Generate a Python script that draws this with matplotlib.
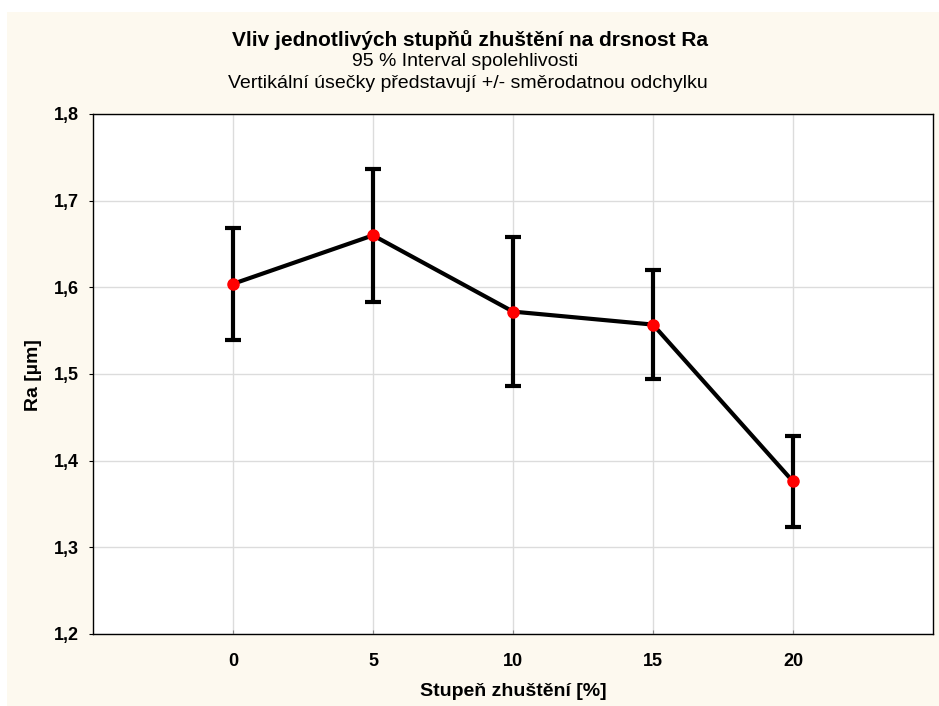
import numpy as np
import matplotlib.pyplot as plt
from matplotlib.patches import Rectangle

plt.rcParams['font.family'] = ['Liberation Sans', 'DejaVu Sans']

# stupen zhusteni a namerene drsnosti
stupne = ['0', '5', '10', '15', '20']
prumery = [1.604, 1.660, 1.572, 1.557, 1.376]
odchylky = [0.065, 0.077, 0.0855, 0.063, 0.052]
y_ticky = [1.2, 1.3, 1.4, 1.5, 1.6, 1.7, 1.8]

fig = plt.figure(figsize=(9.39, 7.06), dpi=100)
fig.patch.set_facecolor('white')
# podkladovy ramecek grafu
fig.patches.append(Rectangle((7/939, 0), 1, 1 - 12/706, transform=fig.transFigure,
                             facecolor='#fdf9ef', edgecolor='none', zorder=-10))

ax = fig.add_axes([93/939, 1 - 634/706, 840/939, 520/706])
ax.set_facecolor('white')

x = np.arange(1, len(stupne) + 1)
ax.errorbar(x, prumery, yerr=odchylky, color='black', lw=3, elinewidth=3,
            capsize=6, capthick=3, zorder=3)
ax.plot(x, prumery, 'o', color='red', markersize=8, zorder=4)

ax.set_xlim(0, 6)
ax.set_ylim(1.2, 1.8)
ax.set_xticks(x)
ax.set_xticklabels(stupne, fontsize=13, fontweight='bold')
ax.set_yticks(y_ticky)
ax.set_yticklabels([f'{v:.1f}'.replace('.', ',') for v in y_ticky],
                   fontsize=13, fontweight='bold')
ax.tick_params(axis='x', direction='in', length=3, pad=14, color='#888888')
ax.tick_params(axis='y', direction='out', length=3, pad=7)
ax.grid(True, color='#dcdcdc', lw=1)
ax.set_axisbelow(True)
for s in ax.spines.values():
    s.set_color('black')
    s.set_linewidth(1)

fig.text(470/939, 1 - 40/706, 'Vliv jednotlivých stupňů zhuštění na drsnost Ra',
         ha='center', va='center', fontsize=15, fontweight='bold')
fig.text(465/939, 1 - 61/706, '95 % Interval spolehlivosti',
         ha='center', va='center', fontsize=14)
fig.text(468/939, 1 - 84/706, 'Vertikální úsečky představují +/- směrodatnou odchylku',
         ha='center', va='center', fontsize=14)
fig.text(33/939, 1 - 375/706, 'Ra [µm]', rotation=90, ha='center', va='center',
         fontsize=14, fontweight='bold')
fig.text(513/939, 1 - 691/706, 'Stupeň zhuštění [%]', ha='center', va='center',
         fontsize=14, fontweight='bold')

fig.savefig('out.png', dpi=100)
